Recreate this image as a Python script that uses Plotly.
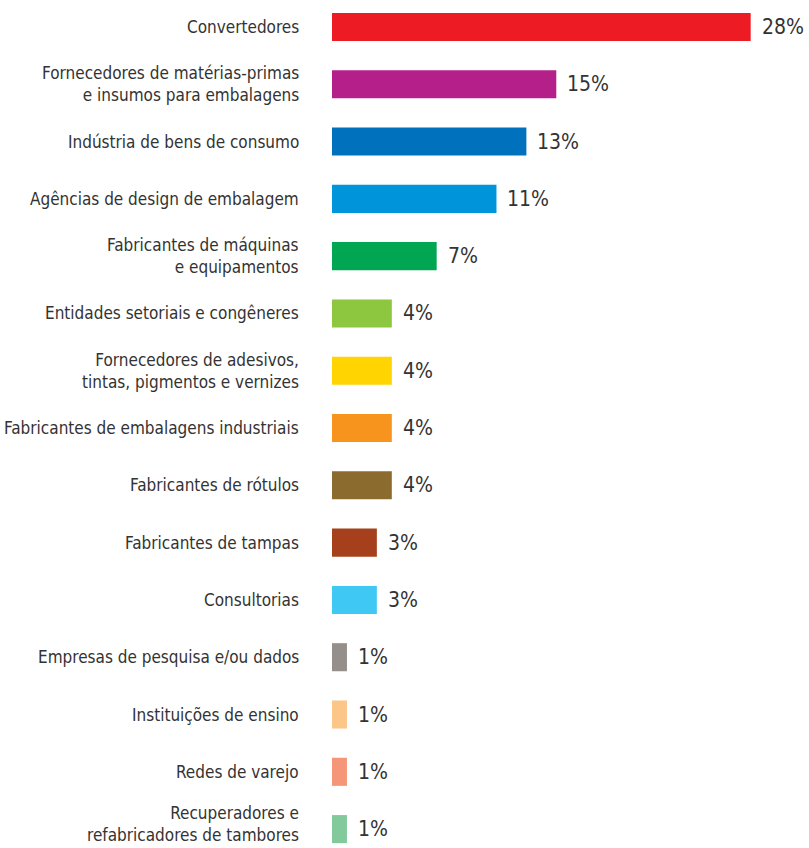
import plotly.graph_objects as go

categories = [
    "Convertedores",
    "Fornecedores de matérias-primas<br>e insumos para embalagens",
    "Indústria de bens de consumo",
    "Agências de design de embalagem",
    "Fabricantes de máquinas<br>e equipamentos",
    "Entidades setoriais e congêneres",
    "Fornecedores de adesivos,<br>tintas, pigmentos e vernizes",
    "Fabricantes de embalagens industriais",
    "Fabricantes de rótulos",
    "Fabricantes de tampas",
    "Consultorias",
    "Empresas de pesquisa e/ou dados",
    "Instituições de ensino",
    "Redes de varejo",
    "Recuperadores e<br>refabricadores de tambores",
]
values = [28, 15, 13, 11, 7, 4, 4, 4, 4, 3, 3, 1, 1, 1, 1]
colors = [
    "#ED1C24", "#B41F8A", "#0071BC", "#0095DA", "#00A651",
    "#8DC63F", "#FFD400", "#F7941D", "#8B6C2E", "#A6401C",
    "#40C8F4", "#958F8C", "#FDC689", "#F69679", "#82CA9C",
]

FONT = "DejaVu Sans Condensed, sans-serif"
TEXT_COLOR = "#333333"

fig = go.Figure(
    go.Bar(
        x=values,
        y=list(range(len(categories))),
        orientation="h",
        marker=dict(color=colors, line=dict(width=0)),
        width=0.49,
        hoverinfo="skip",
    )
)

last = len(categories) - 1
for i, (cat, v) in enumerate(zip(categories, values)):
    # category label, right-aligned to the left of the bar
    fig.add_annotation(
        x=0, y=i, text=cat, showarrow=False, align="right",
        xanchor="right", yanchor="middle", xshift=-31,
        yshift=5 if i == last else 0,
        font=dict(family=FONT, size=17, color=TEXT_COLOR),
    )
    # value label just past the end of the bar
    fig.add_annotation(
        x=v, y=i, text=f"{v}%", showarrow=False,
        xanchor="left", yanchor="middle", xshift=9,
        font=dict(family=FONT, size=21, color=TEXT_COLOR),
    )

fig.update_layout(
    width=809, height=848,
    margin=dict(l=332, r=0, t=0, b=0),
    paper_bgcolor="white", plot_bgcolor="white",
    showlegend=False,
    xaxis=dict(range=[0, 31.9], visible=False, fixedrange=True, automargin=False),
    yaxis=dict(
        range=[14.33, -0.471],
        visible=False, automargin=False, fixedrange=True,
    ),
)

fig.write_html("out.html")
